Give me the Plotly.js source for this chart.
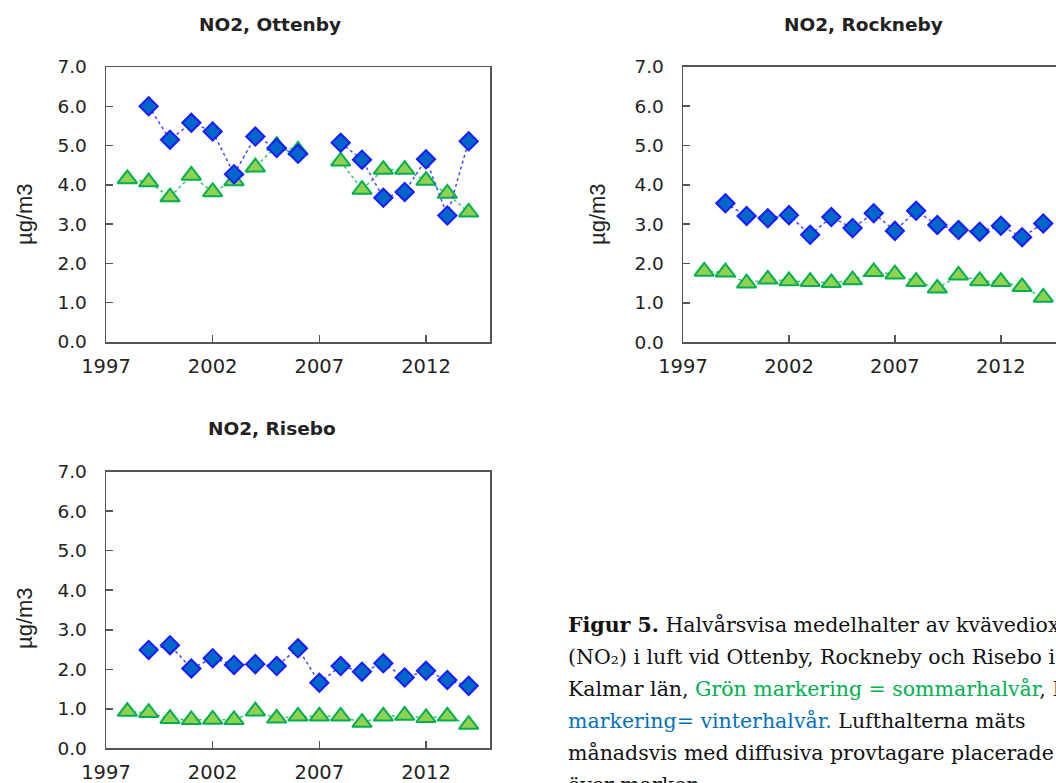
<!DOCTYPE html>
<html>
<head>
<meta charset="utf-8">
<script src="https://cdn.plot.ly/plotly-3.0.1.min.js"></script>
<style>
  html, body { margin: 0; padding: 0; background: #fff; overflow: hidden; }
  #fig { width: 1056px; height: 783px; }
</style>
</head>
<body>
<div id="fig"></div>
<script>
// Half-year mean NO2 concentrations (µg/m3) at three stations in Kalmar län
const years = [1998, 1999, 2000, 2001, 2002, 2003, 2004, 2005, 2006, 2007,
               2008, 2009, 2010, 2011, 2012, 2013, 2014];

// Ottenby (no data for 2007)
const ottenbySummer = [4.15, 4.07, 3.69, 4.24, 3.82, 4.1, 4.45, 5.0, 4.88, null,
                       4.6, 3.88, 4.39, 4.39, 4.11, 3.78, 3.3];
const ottenbyWinter = [null, 6.0, 5.15, 5.58, 5.36, 4.27, 5.23, 4.94, 4.79, null,
                       5.07, 4.64, 3.67, 3.82, 4.65, 3.22, 5.11];

// Rockneby
const rocknebySummer = [1.8, 1.78, 1.5, 1.6, 1.56, 1.54, 1.51, 1.58, 1.79, 1.73,
                        1.54, 1.37, 1.7, 1.56, 1.54, 1.41, 1.14];
const rocknebyWinter = [null, 3.53, 3.21, 3.15, 3.23, 2.73, 3.18, 2.9, 3.28, 2.83,
                        3.34, 2.98, 2.85, 2.81, 2.96, 2.67, 3.02];

// Risebo
const riseboSummer = [0.93, 0.9, 0.75, 0.72, 0.73, 0.72, 0.94, 0.76, 0.81, 0.81,
                      0.81, 0.65, 0.81, 0.83, 0.77, 0.81, 0.6];
const riseboWinter = [null, 2.49, 2.61, 2.02, 2.28, 2.11, 2.13, 2.08, 2.53, 1.66,
                      2.08, 1.94, 2.15, 1.79, 1.96, 1.73, 1.58];

const stationTitles = ['NO2, Ottenby', 'NO2, Rockneby', 'NO2, Risebo'];
const yTitle = 'µg/m3';
const xTickVals = [1997, 2002, 2007, 2012];
const yTickVals = [0, 1, 2, 3, 4, 5, 6, 7];

const captionLines = [
  '<b>Figur 5.</b> Halvårsvisa medelhalter av kvävedioxid',
  '(NO₂) i luft vid Ottenby, Rockneby och Risebo i',
  'Kalmar län, <span style="color:#00b050">Grön markering = sommarhalvår</span>, Blå',
  '<span style="color:#0070c0">markering= vinterhalvår.</span> Lufthalterna mäts',
  'månadsvis med diffusiva provtagare placerade',
  'över marken.'
];

// page size in px, used to place panels and text in paper coordinates
const W = 1056, H = 783;
const fx = px => px / W;
const fy = py => 1 - py / H;

const summerStyle = {
  mode: 'lines+markers',
  line: { color: '#3cc060', width: 1.5, dash: 'dot' },
  marker: { symbol: 'triangle-up', size: 17, color: '#92d050',
            line: { color: '#00b050', width: 2 } },
  connectgaps: false, showlegend: false, hoverinfo: 'x+y'
};
const winterStyle = {
  mode: 'lines+markers',
  line: { color: '#4848ff', width: 1.5, dash: 'dot' },
  marker: { symbol: 'diamond', size: 14, color: '#0066c8',
            line: { color: '#1a1aff', width: 2 } },
  connectgaps: false, showlegend: false, hoverinfo: 'x+y'
};

const traces = [
  Object.assign({ x: years, y: ottenbySummer, xaxis: 'x', yaxis: 'y' }, summerStyle),
  Object.assign({ x: years, y: ottenbyWinter, xaxis: 'x', yaxis: 'y' }, winterStyle),
  Object.assign({ x: years, y: rocknebySummer, xaxis: 'x2', yaxis: 'y2' }, summerStyle),
  Object.assign({ x: years, y: rocknebyWinter, xaxis: 'x2', yaxis: 'y2' }, winterStyle),
  Object.assign({ x: years, y: riseboSummer, xaxis: 'x3', yaxis: 'y3' }, summerStyle),
  Object.assign({ x: years, y: riseboWinter, xaxis: 'x3', yaxis: 'y3' }, winterStyle)
];

const sans = '"DejaVu Sans", Arial, sans-serif';
const xTickFont = { family: sans, size: 19.5, color: '#222' };
const yTickFont = { family: sans, size: 18.5, color: '#222' };
const frameColor = '#555';

function xAxis(domain, range, anchor) {
  return {
    domain: domain, range: range, anchor: anchor,
    tickvals: xTickVals, ticktext: xTickVals.map(String),
    ticks: 'inside', ticklen: 7, tickwidth: 1.5, tickcolor: frameColor,
    showline: true, linecolor: frameColor, linewidth: 1.5, mirror: true,
    showgrid: false, zeroline: false, tickfont: xTickFont, ticklabelstandoff: 6
  };
}
function yAxis(domain, anchor, mirror) {
  return {
    domain: domain, range: [0, 7], anchor: anchor,
    tickvals: yTickVals, tickformat: '.1f',
    ticks: 'inside', ticklen: 7, tickwidth: 1.5, tickcolor: frameColor,
    showline: true, linecolor: frameColor, linewidth: 1.5, mirror: mirror,
    showgrid: false, zeroline: false, tickfont: yTickFont, ticklabelstandoff: 14
  };
}

const titleFont = { family: sans, size: 18.5, color: '#222' };
const yTitleFont = { family: 'Arial, "Liberation Sans", sans-serif', size: 22, color: '#222' };
const captionFont = { family: '"DejaVu Serif", serif', size: 20.5, color: '#111' };

const annotations = [
  { text: '<b>' + stationTitles[0] + '</b>', x: fx(270), y: fy(25) },
  { text: '<b>' + stationTitles[1] + '</b>', x: fx(863), y: fy(25) },
  { text: '<b>' + stationTitles[2] + '</b>', x: fx(272), y: fy(428) }
].map(a => Object.assign(a, { xref: 'paper', yref: 'paper', showarrow: false,
                              xanchor: 'center', yanchor: 'middle', font: titleFont }));

[[24, 214], [597, 214], [24, 618]].forEach(p => annotations.push({
  text: yTitle, x: fx(p[0]), y: fy(p[1]), xref: 'paper', yref: 'paper',
  showarrow: false, textangle: -90, xanchor: 'center', yanchor: 'middle', font: yTitleFont
}));

captionLines.forEach((line, i) => annotations.push({
  text: line, x: fx(566), y: fy(625 + i * 32), xref: 'paper', yref: 'paper',
  showarrow: false, xanchor: 'left', yanchor: 'middle', align: 'left', font: captionFont
}));

const layout = {
  width: W, height: H,
  margin: { l: 0, r: 0, t: 0, b: 0 },
  paper_bgcolor: '#fff', plot_bgcolor: '#fff',
  showlegend: false,
  xaxis: xAxis([fx(106), fx(490)], [1997, 2015], 'y'),
  yaxis: yAxis([fy(342), fy(67)], 'x', true),
  xaxis2: xAxis([fx(683), 1], [1997, 2014.6], 'y2'),
  yaxis2: yAxis([fy(342.3), fy(66.7)], 'x2', false),
  xaxis3: xAxis([fx(106), fx(490)], [1997, 2015], 'y3'),
  yaxis3: yAxis([fy(748.3), fy(471.7)], 'x3', true),
  annotations: annotations
};

Plotly.newPlot('fig', traces, layout, { displayModeBar: false, staticPlot: true });
</script>
</body>
</html>
